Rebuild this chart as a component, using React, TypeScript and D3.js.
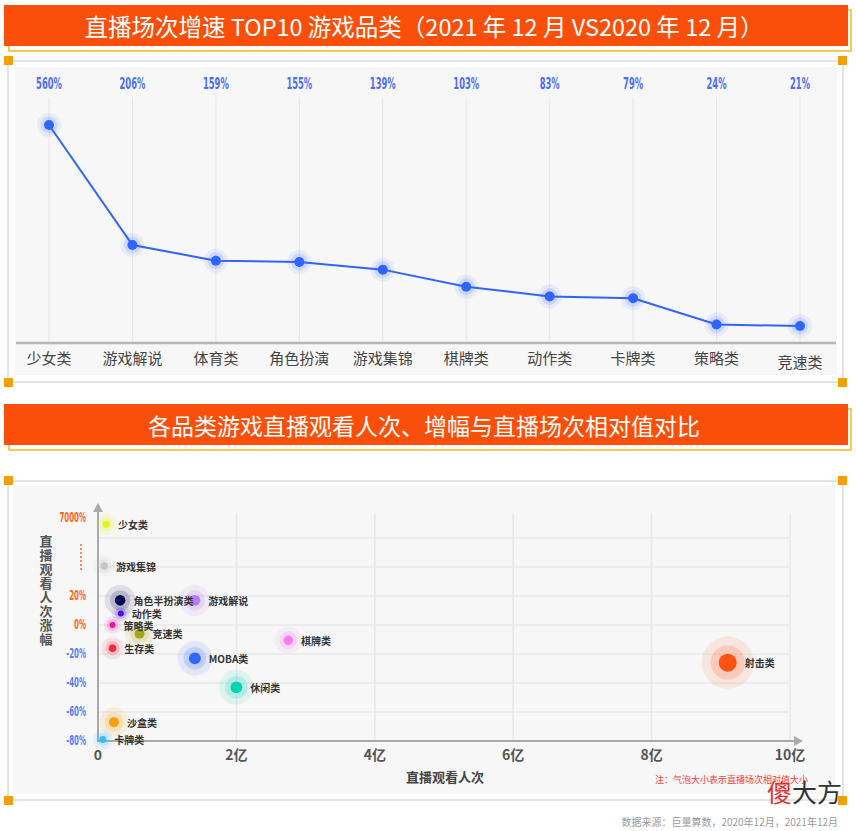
import React from 'react';
import * as d3 from 'd3';

// ---------- Data ----------
const topCategories = ['少女类', '游戏解说', '体育类', '角色扮演', '游戏集锦', '棋牌类', '动作类', '卡牌类', '策略类', '竞速类'];
const topGrowth = [560, 206, 159, 155, 139, 103, 83, 79, 24, 21];

const bubbleNames = ['少女类', '游戏集锦', '角色半扮演类', '游戏解说', '动作类', '策略类', '竞速类', '生存类', 'MOBA类', '棋牌类', '休闲类', '沙盒类', '卡牌类', '射击类'];
const bubbleViews = [0.12, 0.09, 0.32, 1.4, 0.33, 0.21, 0.6, 0.21, 1.4, 2.75, 2.0, 0.23, 0.07, 9.1]; // 亿
const bubbleGrowth = [6450, 2700, 17, 17, 8, 0, -6, -16, -23, -10.5, -43, -67, -79, -26]; // %
const bubbleSessions = [17, 17, 35, 36, 11, 11, 31, 18, 44, 27, 44, 31, 15, 100];
const bubbleColors = ['#e4f51c', '#c4c4c4', '#0c0c55', '#b97cf0', '#4812d6', '#e8189a', '#a6a61a', '#f22a42', '#3366ff', '#f47cf0', '#00d4b2', '#f5a00c', '#38bdf8', '#fc5212'];

const xTickValues = [0, 2, 4, 6, 8, 10];
const xTickLabels = ['0', '2亿', '4亿', '6亿', '8亿', '10亿'];
const yTickValues = [7000, 20, 0, -20, -40, -60, -80];
const yTickLabels = ['7000%', '20%', '0%', '-20%', '-40%', '-60%', '-80%'];
const yGridValues = [-60, -40, -20, 0, 20, 40, 60];
const yAxisTitle = '直播观看人次涨幅';

const title1 = '直播场次增速 TOP10 游戏品类（2021 年 12 月 VS2020 年 12 月）';
const title2 = '各品类游戏直播观看人次、增幅与直播场次相对值对比';
const noteText = '注：气泡大小表示直播场次相对值大小';
const sourceText = '数据来源：巨量算数，2020年12月，2021年12月';

const CJK = "'Noto Sans CJK SC', 'Noto Sans', sans-serif";
const NARROW = "'DejaVu Sans Condensed', 'DejaVu Sans', sans-serif";
const ORANGE = '#fa4f0a';
const YELLOW = '#f5b81c';
const SQ = '#f5a000';

function TitleBar({ y, text, size }: { y: number; text: string; size: number }) {
  return (
    <g>
      <rect x={9} y={y + 5} width={842} height={41} fill="#fff" stroke={YELLOW} strokeWidth={1.5} />
      <rect x={4} y={y} width={844} height={41} fill={ORANGE} />
      <text x={424} y={y + 21} textAnchor="middle" dominantBaseline="central" fill="#fff" fontFamily={CJK} fontSize={size}>
        {text}
      </text>
    </g>
  );
}

function Panel({ x0, y0, x1, y1, ix0, iy0, ix1, iy1 }: any) {
  return (
    <g>
      <rect x={x0} y={y0} width={x1 - x0} height={y1 - y0} fill="#fff" stroke="#e4e4e4" strokeWidth={2} />
      <rect x={ix0} y={iy0} width={ix1 - ix0} height={iy1 - iy0} fill="#f7f7f7" />
      <rect x={x0 - 4} y={y0 - 5} width={9} height={9} fill={SQ} />
      <rect x={x1 - 5} y={y0 - 5} width={9} height={9} fill={SQ} />
      <rect x={x0 - 4} y={y1 - 4} width={9} height={9} fill={SQ} />
      <rect x={x1 - 5} y={y1 - 4} width={9} height={9} fill={SQ} />
    </g>
  );
}

function NarrowText({ x, y, anchor, fill, size, sx, children }: any) {
  return (
    <text
      transform={`translate(${x},${y}) scale(${sx},1)`}
      x={0}
      y={0}
      textAnchor={anchor}
      dominantBaseline="central"
      fill={fill}
      fontFamily={NARROW}
      fontWeight="bold"
      fontSize={size}
    >
      {children}
    </text>
  );
}

export default function App() {
  // ---------- top line chart ----------
  const xTop = d3.scalePoint<string>().domain(topCategories).range([49, 800]);
  const yTop = d3.scaleLinear().domain([21, 155, 206, 560]).range([326, 262, 245, 125]);
  const lineGen = d3
    .line<number>()
    .x((_, i) => xTop(topCategories[i]) as number)
    .y((d) => yTop(d));
  const axisY = 343;

  // ---------- bubble chart ----------
  const xB = d3.scaleLinear().domain([0, 10]).range([98, 790]);
  const yB = d3.scaleLinear().domain([-80, 20, 7000]).range([741, 596, 518]);
  const yLin = d3.scaleLinear().domain([-80, 20]).range([741, 596]);
  const rB = d3.scaleSqrt().domain([0, 100]).range([0, 9]);
  const x0 = xB(0);
  const y0 = yB(-80);
  const xEnd = xB(10);

  const order = d3.range(bubbleNames.length).sort((a, b) => bubbleSessions[b] - bubbleSessions[a]);

  return (
    <svg width={856} height={831} style={{ position: 'absolute', left: 0, top: 0 }} xmlns="http://www.w3.org/2000/svg">
      <rect x={0} y={0} width={856} height={831} fill="#fff" />

      {/* ===== Section 1 ===== */}
      <TitleBar y={5} text={title1} size={23.5} />
      <Panel x0={8} y0={61} x1={843} y1={382} ix0={15} iy0={67} ix1={837} iy1={375} />

      {topCategories.map((c) => (
        <line key={'g' + c} x1={xTop(c)} x2={xTop(c)} y1={97} y2={axisY} stroke="#e6e6e6" strokeWidth={1} />
      ))}
      <line x1={16} x2={836} y1={axisY} y2={axisY} stroke="#b5b5b5" strokeWidth={2.5} />
      {topCategories.map((c, i) => (
        <text key={'c' + c} x={xTop(c)} y={i === topCategories.length - 1 ? 361 : 357} textAnchor="middle" dominantBaseline="central" fill="#444" fontFamily={CJK} fontSize={15}>
          {c}
        </text>
      ))}
      {topGrowth.map((v, i) => (
        <NarrowText key={'v' + i} x={xTop(topCategories[i])} y={84} anchor="middle" fill="#4a6cf7" size={15} sx={0.62}>
          {v + '%'}
        </NarrowText>
      ))}
      <path d={lineGen(topGrowth) || ''} fill="none" stroke="#2f64ff" strokeWidth={2} />
      {topGrowth.map((v, i) => (
        <g key={'d' + i}>
          <circle cx={xTop(topCategories[i])} cy={yTop(v)} r={12} fill="#2f64ff" fillOpacity={0.08} />
          <circle cx={xTop(topCategories[i])} cy={yTop(v)} r={8.5} fill="#2f64ff" fillOpacity={0.14} />
          <circle cx={xTop(topCategories[i])} cy={yTop(v)} r={5} fill="#2f64ff" />
        </g>
      ))}

      {/* ===== Section 2 ===== */}
      <TitleBar y={404} text={title2} size={23} />
      <Panel x0={8} y0={481} x1={843} y1={800} ix0={13} iy0={485} ix1={835} iy1={794} />

      {/* grid */}
      {yGridValues.map((v) => (
        <line key={'hy' + v} x1={x0} x2={xEnd} y1={yLin(v)} y2={yLin(v)} stroke="#e8e8e8" strokeWidth={1.5} />
      ))}
      {xTickValues.slice(1).map((v) => (
        <line key={'vx' + v} x1={xB(v)} x2={xB(v)} y1={513} y2={y0} stroke="#e8e8e8" strokeWidth={1.5} />
      ))}

      {/* axes */}
      <line x1={x0} x2={x0} y1={y0 + 1} y2={511} stroke="#aaa" strokeWidth={2} />
      <path d={`M${x0 - 5},${512} L${x0},${503} L${x0 + 5},${512} Z`} fill="#aaa" />
      <line x1={x0 - 1} x2={xEnd + 4} y1={y0} y2={y0} stroke="#aaa" strokeWidth={2} />
      <path d={`M${xEnd + 4},${y0 - 5} L${xEnd + 13},${y0} L${xEnd + 4},${y0 + 5} Z`} fill="#aaa" />

      {/* y tick labels */}
      {yTickValues.map((v, i) => (
        <NarrowText key={'yt' + v} x={86} y={yB(v)} anchor="end" fill={v >= 0 ? '#ff6420' : '#5b7cfa'} size={13.5} sx={0.58}>
          {yTickLabels[i]}
        </NarrowText>
      ))}
      <line x1={81} x2={81} y1={544} y2={570} stroke="#ff6420" strokeWidth={1.5} strokeDasharray="2,2" />

      {/* y axis title */}
      {yAxisTitle.split('').map((ch, i) => (
        <text key={'ya' + i} x={46} y={540 + i * 14} textAnchor="middle" dominantBaseline="central" fill="#555" fontFamily={CJK} fontWeight="bold" fontSize={13}>
          {ch}
        </text>
      ))}

      {/* x tick labels */}
      {xTickValues.map((v, i) => (
        <text key={'xt' + v} x={xB(v)} y={754} textAnchor="middle" dominantBaseline="central" fill="#555" fontFamily={CJK} fontWeight="bold" fontSize={14}>
          {xTickLabels[i]}
        </text>
      ))}
      <text x={445} y={776} textAnchor="middle" dominantBaseline="central" fill="#444" fontFamily={CJK} fontWeight="bold" fontSize={13}>
        直播观看人次
      </text>

      {/* bubbles */}
      {order.map((i) => {
        const cx = xB(bubbleViews[i]);
        const cy = yB(bubbleGrowth[i]);
        const r = rB(bubbleSessions[i]);
        const col = bubbleColors[i];
        return (
          <g key={'b' + i}>
            <circle cx={cx} cy={cy} r={r * 2.9} fill={col} fillOpacity={0.1} />
            <circle cx={cx} cy={cy} r={r * 1.9} fill={col} fillOpacity={0.18} />
            <circle cx={cx} cy={cy} r={r} fill={col} />
          </g>
        );
      })}
      {bubbleNames.map((n, i) => (
        <text key={'bl' + i} x={xB(bubbleViews[i]) + rB(bubbleSessions[i]) + 8} y={yB(bubbleGrowth[i])} dominantBaseline="central" fill="#333" fontFamily={CJK} fontWeight="bold" fontSize={10}>
          {n}
        </text>
      ))}

      {/* note + watermark + source */}
      <text x={655} y={779} dominantBaseline="central" fill="#ff3b30" fontFamily={CJK} fontSize={9}>
        {noteText}
      </text>
      <text x={767} y={802} fill="#333" fontFamily={CJK} fontSize={25}>
        <tspan fill="#e8302a">傻</tspan>大方
      </text>
      <text x={838} y={821} textAnchor="end" dominantBaseline="central" fill="#999" fontFamily={CJK} fontSize={10}>
        {sourceText}
      </text>
    </svg>
  );
}
